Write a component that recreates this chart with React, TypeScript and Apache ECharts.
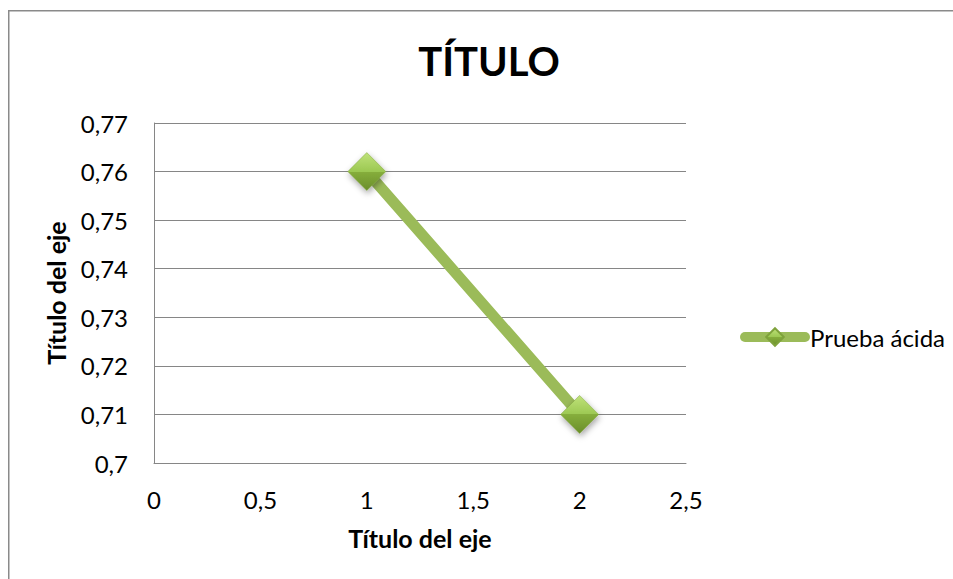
import React, { useEffect, useRef } from "react";
import * as echarts from "echarts";

const seriesName = "Prueba ácida";
const xValues = [1, 2];
const yValues = [0.76, 0.71];
const chartTitle = "TÍTULO";
const xAxisTitle = "Título del eje";
const yAxisTitle = "Título del eje";

const FONT = "Lato, 'Open Sans', sans-serif";
const fmt = (v: number) => String(Math.round(v * 1000) / 1000).replace(".", ",");

export default function App() {
  const ref = useRef<HTMLDivElement>(null);
  useEffect(() => {
    if (!ref.current) return;
    const chart = echarts.init(ref.current, null, { renderer: "svg" });
    const diamondFill = new echarts.graphic.LinearGradient(0, 0, 0, 1, [
      { offset: 0, color: "#bfe27a" },
      { offset: 0.5, color: "#9cc852" },
      { offset: 0.5, color: "#86ae3c" },
      { offset: 1, color: "#6a8e2a" },
    ]);
    chart.setOption({
      animation: false,
      backgroundColor: "#ffffff",
      textStyle: { fontFamily: FONT },
      title: {
        text: chartTitle,
        left: 484,
        textAlign: "center",
        top: 36,
        textStyle: { fontFamily: FONT, fontSize: 40, fontWeight: "bold", color: "#000" },
      },
      graphic: [
        {
          type: "rect",
          shape: { x: 8.75, y: 10.75, width: 1000, height: 1000 },
          style: { fill: "none", stroke: "#8a8a8a", lineWidth: 1.5 },
          silent: true,
          z: -1,
        },
      ],
      legend: {
        left: 740,
        top: 325,
        padding: 0,
        itemWidth: 60,
        itemHeight: 22,
        itemGap: 4,
        lineStyle: { width: 10, cap: "round", color: "#9bbb59" },
        textStyle: { fontFamily: FONT, fontSize: 24, color: "#000" },
        data: [{ name: seriesName }],
      },
      grid: { left: 154, top: 123, right: 267, bottom: 116, containLabel: false },
      xAxis: {
        type: "value",
        min: 0,
        max: 2.5,
        interval: 0.5,
        name: xAxisTitle,
        nameLocation: "middle",
        nameGap: 62,
        nameTextStyle: { fontFamily: FONT, fontSize: 25, fontWeight: "bold", color: "#000" },
        axisLine: { show: true, lineStyle: { color: "#868686", width: 1 } },
        axisTick: { show: false },
        splitLine: { show: false },
        axisLabel: {
          margin: 24,
          fontFamily: FONT,
          fontSize: 24,
          color: "#000",
          formatter: fmt,
        },
      },
      yAxis: {
        type: "value",
        min: 0.7,
        max: 0.77,
        interval: 0.01,
        name: yAxisTitle,
        nameLocation: "middle",
        nameGap: 86,
        nameRotate: 90,
        nameTextStyle: { fontFamily: FONT, fontSize: 25, fontWeight: "bold", color: "#000" },
        axisLine: { show: true, lineStyle: { color: "#868686", width: 1 } },
        axisTick: { show: true, length: 5, inside: true, lineStyle: { color: "#868686" } },
        splitLine: { show: true, lineStyle: { color: "#868686", width: 1 } },
        axisLabel: {
          margin: 26,
          fontFamily: FONT,
          fontSize: 24,
          color: "#000",
          formatter: fmt,
        },
      },
      series: [
        {
          name: seriesName,
          type: "line",
          data: xValues.map((x, i) => [x, yValues[i]]),
          lineStyle: { color: "#9bbb59", width: 11, cap: "round" },
          itemStyle: {
            color: diamondFill,
            borderColor: "#7fa23c",
            borderWidth: 0.5,
            shadowColor: "rgba(0,0,0,0.35)",
            shadowBlur: 6,
            shadowOffsetX: 1,
            shadowOffsetY: 3,
          },
          symbol: "diamond",
          symbolSize: 38,
          showSymbol: true,
        },
      ],
    });
    return () => chart.dispose();
  }, []);
  return (
    <div
      ref={ref}
      style={{ position: "fixed", left: 0, top: 0, width: 953, height: 579 }}
    />
  );
}
